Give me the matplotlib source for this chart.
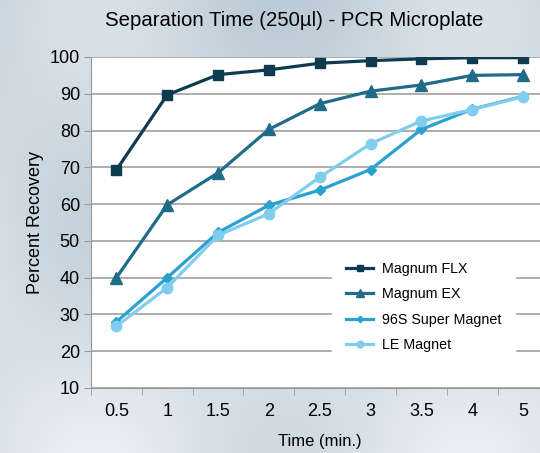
import numpy as np
import matplotlib.pyplot as plt
from matplotlib.colors import LinearSegmentedColormap

plt.rcParams['font.family'] = ['Liberation Sans', 'DejaVu Sans']

times = ['0.5', '1', '1.5', '2', '2.5', '3', '3.5', '4', '5']
magnum_flx = [69.3, 89.7, 95.2, 96.5, 98.3, 99.0, 99.5, 99.8, 99.8]
magnum_ex = [40.0, 59.8, 68.5, 80.3, 87.3, 90.7, 92.4, 95.0, 95.2]
super_96s = [28.0, 40.0, 52.3, 59.7, 63.8, 69.4, 80.3, 85.8, 89.3]
le_magnet = [26.8, 37.3, 51.5, 57.4, 67.3, 76.4, 82.6, 85.7, 89.2]

fig = plt.figure(figsize=(5.4, 4.53), dpi=100)
fig.patch.set_facecolor('#dbe4ea')

# soft background shading instead of the photo
bg = fig.add_axes([0, 0, 1, 1], zorder=-1)
yy, xx = np.mgrid[0:1:200j, 0:1:200j]
shade = 0.5 + 0.2 * np.sin(xx * 9) * np.cos(yy * 6) - 0.25 * (1 - yy)
cmap = LinearSegmentedColormap.from_list('bgc', ['#b9c8d4', '#f1f5f8'])
bg.imshow(shade, cmap=cmap, vmin=0, vmax=0.8, aspect='auto', extent=[0, 1, 0, 1])
bg.axis('off')

ax = fig.add_axes([0.1685, 0.1435, 0.847, 0.7307])
ax.set_facecolor('white')
x = np.arange(len(times))

ax.plot(x, magnum_flx, color='#0e3b4f', lw=2.3, marker='s', ms=7.5, label='Magnum FLX')
ax.plot(x, magnum_ex, color='#1f6b89', lw=2.3, marker='^', ms=8, label='Magnum EX')
ax.plot(x, super_96s, color='#2aa1cf', lw=2.3, marker='D', ms=5, label='96S Super Magnet')
ax.plot(x, le_magnet, color='#80cdee', lw=2.3, marker='o', ms=7.5, label='LE Magnet')

ax.set_xlim(-0.5, len(times) - 0.5)
ax.set_ylim(10, 100)
ax.set_yticks(range(10, 101, 10))
ax.set_xticks(x)
ax.set_xticklabels(times)
ax.set_xticks(np.arange(-0.5, len(times)), minor=True)
ax.tick_params(axis='x', which='major', length=0, pad=11, labelsize=13)
ax.tick_params(axis='x', which='minor', length=5, color='#999999', direction='out')
ax.tick_params(axis='y', length=5, color='#999999', labelsize=13, pad=3)
ax.yaxis.grid(True, color='#a0a0a0', lw=1.2)
ax.set_axisbelow(True)
for s in ['top', 'right']:
    ax.spines[s].set_visible(False)
for s in ['left', 'bottom']:
    ax.spines[s].set_color('#999999')

ax.set_xlabel('Time (min.)', fontsize=12, labelpad=10)
ax.set_ylabel('Percent Recovery', fontsize=13, labelpad=4)
fig.text(0.545, 0.955, 'Separation Time (250\u00b5l) - PCR Microplate',
         fontsize=14.7, ha='center', va='center')

leg = ax.legend(loc='lower left', bbox_to_anchor=(0.52, 0.057), frameon=True,
                fontsize=10.3, handlelength=1.9, labelspacing=0.8, borderpad=0.7,
                markerscale=0.65, handletextpad=0.6)
leg.get_frame().set_facecolor('white')
leg.get_frame().set_edgecolor('white')
leg.get_frame().set_alpha(1)
leg.get_frame().set_boxstyle('square')

fig.savefig('out.png', dpi=100)
